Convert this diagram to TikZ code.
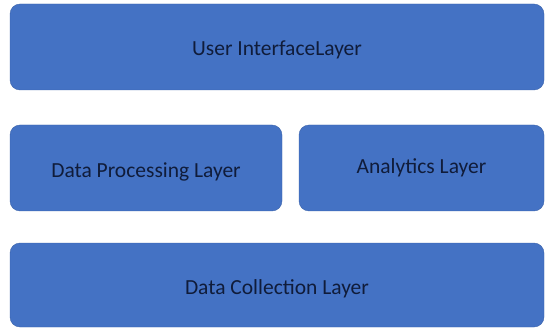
\documentclass[tikz,border=0pt]{standalone}
\usepackage{fontspec}
\setmainfont{Carlito}
\definecolor{layerfill}{HTML}{4472C4}
\definecolor{layerline}{HTML}{3A62AA}
\definecolor{layertext}{HTML}{101C3A}

\begin{document}
\begin{tikzpicture}[x=1pt,y=1pt,layer/.style={draw=layerline,fill=layerfill,rounded
corners=10pt,minimum height=86pt,inner sep=0pt,text height=18pt,text depth=0pt,
text=layertext,font=\fontsize{21.5}{25}\selectfont}]
\useasboundingbox (0,0) rectangle (547,330);
\node[layer,minimum width=534pt] (ui) at (277,283) {User InterfaceLayer};
\node[layer,minimum width=272pt] (proc) at (146,162) {Data Processing Layer};
\node[layer,minimum width=245pt,text height=12pt] (ana) at (421.5,162) {Analytics Layer};
\node[layer,minimum width=534pt,minimum height=84pt] (coll) at (277,45) {Data Collection Layer};
\end{tikzpicture}
\end{document}
